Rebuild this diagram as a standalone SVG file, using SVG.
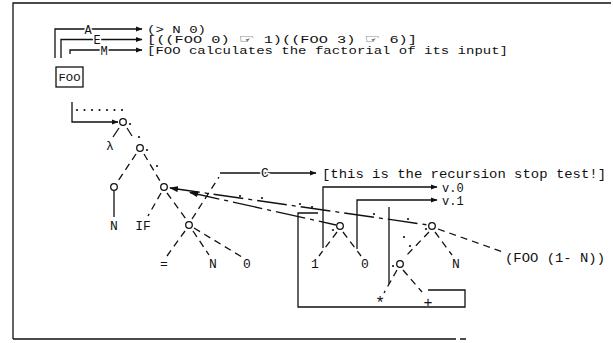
<svg xmlns="http://www.w3.org/2000/svg" width="613" height="343" viewBox="0 0 613 343">
<defs>
<style>
.t{font-family:"Liberation Mono","DejaVu Sans Mono",monospace;font-size:13px;fill:#111}
.s{font-family:"Liberation Mono","DejaVu Sans Mono",monospace;font-size:10.5px;fill:#111}
.v{font-family:"Liberation Mono","DejaVu Sans Mono",monospace;font-size:12px;fill:#111}
.h{font-family:"DejaVu Sans",sans-serif;font-size:12px}
.lbl{font-family:"Liberation Mono","DejaVu Sans Mono",monospace;font-size:12px;fill:#111;text-anchor:middle;paint-order:stroke;stroke:#fff;stroke-width:3px}
.ln{fill:none;stroke:#111;stroke-width:1.3}
.ds{fill:none;stroke:#111;stroke-width:1.3;stroke-dasharray:7 5}
.lg{fill:none;stroke:#111;stroke-width:1.3;stroke-dasharray:30 5 4 5}
.nd{fill:none;stroke:#111;stroke-width:1.3}
.dot{fill:#111}
</style>
<marker id="ah" markerWidth="7" markerHeight="6" refX="6" refY="3" orient="auto" markerUnits="userSpaceOnUse">
<path d="M0,0.5 L6.5,3 L0,5.5 Z" fill="#111"/>
</marker>
<marker id="as" markerWidth="9" markerHeight="6" refX="1" refY="3" orient="auto" markerUnits="userSpaceOnUse">
<path d="M9,0 L0,3 L9,6 Z" fill="#111"/>
</marker>
</defs>
<rect width="613" height="343" fill="#fff"/>
<g id="frame">
<path class="ln" d="M13,339 V3 H611"/>
<path class="ln" d="M13,339 H450"/>
<path class="ln" stroke-dasharray="6 4" d="M450,339 H470"/>
</g>
<g id="connectors">
<path class="ln" d="M55,58 V29 H142" marker-end="url(#ah)"/>
<path class="ln" d="M61,58 V39.5 H142" marker-end="url(#ah)"/>
<path class="ln" d="M70,54 V50 H142" marker-end="url(#ah)"/>
<path class="ln" d="M72,102 V122 H118" marker-end="url(#ah)"/>
<g class="dot">
<circle cx="77" cy="110" r="1.1"/><circle cx="84.5" cy="110" r="1.1"/><circle cx="92" cy="110" r="1.1"/><circle cx="99.5" cy="110" r="1.1"/><circle cx="107" cy="110" r="1.1"/><circle cx="114.5" cy="110" r="1.1"/><circle cx="122" cy="110" r="1.1"/>
</g>
<line class="ln" x1="119" y1="128" x2="113" y2="137"/>
<line class="ln" x1="127" y1="128" x2="132" y2="136"/>
<line class="ds" x1="136" y1="154" x2="118" y2="181"/>
<line class="ds" x1="144" y1="154" x2="160" y2="181"/>
<line class="ln" x1="114" y1="191" x2="114" y2="217"/>
<line class="ds" x1="161" y1="193" x2="148" y2="216"/>
<line class="ds" x1="167" y1="193" x2="186" y2="219"/>
<line class="ds" x1="185" y1="231" x2="167" y2="256"/>
<line class="ds" x1="193" y1="231" x2="209" y2="255"/>
<line class="ds" x1="194" y1="228" x2="242" y2="257"/>
<line class="ds" x1="192" y1="219" x2="219" y2="177"/>
<path class="ln" d="M220,173 H316" marker-end="url(#ah)"/>
<path class="lg" d="M190,192.5 L336,225" marker-start="url(#as)"/>
<path class="lg" d="M170,188 L428,225" marker-start="url(#as)"/>
<line class="ds" x1="337" y1="232" x2="319" y2="256"/>
<line class="ds" x1="343" y1="232" x2="361" y2="256"/>
<path class="ln" d="M323,248 V187 H437" marker-end="url(#ah)"/>
<path class="ln" d="M357,249 V200 H437" marker-end="url(#ah)"/>
<line class="ds" x1="429" y1="232" x2="404" y2="258"/>
<line class="ds" x1="435" y1="232" x2="452" y2="255"/>
<line class="ds" x1="438" y1="229" x2="503" y2="252"/>
<line class="ds" x1="397" y1="270" x2="384" y2="293"/>
<line class="ds" x1="403" y1="270" x2="422" y2="292"/>
<path class="ln" d="M389,207 V284"/>
<path class="ln" d="M428,290 H465 V307 H298 V213 H318"/>
<g class="dot">
<circle cx="130" cy="124" r="1.1"/><circle cx="147" cy="150" r="1.1"/><circle cx="139" cy="137" r="1.1"/><circle cx="157" cy="166" r="1.1"/>
<circle cx="333" cy="230" r="1.1"/><circle cx="426" cy="229" r="1.1"/><circle cx="393" cy="266" r="1.1"/><circle cx="410" cy="246" r="1.1"/><circle cx="404" cy="237" r="1.1"/>
<circle cx="240" cy="196" r="1.1"/><circle cx="262" cy="198" r="1.1"/><circle cx="300" cy="204" r="1.1"/><circle cx="312" cy="207" r="1.1"/><circle cx="374" cy="214" r="1.1"/><circle cx="408" cy="219" r="1.1"/>
</g>
</g>
<g id="legend">
<text class="lbl" x="88" y="33.5">A</text>
<text class="lbl" x="97" y="44">E</text>
<text class="lbl" x="104" y="54.5">M</text>
<text class="s" x="147" y="32.5" textLength="59" lengthAdjust="spacingAndGlyphs">(&gt; N 0)</text>
<text class="s" x="147" y="43" textLength="270" lengthAdjust="spacingAndGlyphs">[((FOO 0) <tspan class="h">☞</tspan> 1)((FOO 3) <tspan class="h">☞</tspan> 6)]</text>
<text class="s" x="147" y="53.5" textLength="361" lengthAdjust="spacingAndGlyphs">[FOO calculates the factorial of its input]</text>
</g>
<g id="node-foo">
<rect class="nd" x="56" y="67" width="27" height="20"/>
<text class="s" x="69.5" y="81" text-anchor="middle" textLength="22" lengthAdjust="spacingAndGlyphs">FOO</text>
</g>
<g id="node-root"><circle class="nd" cx="123" cy="122" r="3.3"/></g>
<g id="node-lambda"><text class="t" x="110" y="149.5" text-anchor="middle">λ</text></g>
<g id="node-body"><circle class="nd" cx="140" cy="148" r="3.3"/></g>
<g id="node-args"><circle class="nd" cx="114" cy="187" r="3.3"/></g>
<g id="node-arg-n"><text class="t" x="114" y="229.5" text-anchor="middle">N</text></g>
<g id="node-if"><circle class="nd" cx="164" cy="187" r="3.3"/></g>
<g id="node-if-label"><text class="t" x="143" y="229.5" text-anchor="middle">IF</text></g>
<g id="node-test"><circle class="nd" cx="189" cy="225" r="3.3"/></g>
<g id="node-eq"><text class="t" x="164" y="267.5" text-anchor="middle">=</text></g>
<g id="node-test-n"><text class="t" x="213" y="267.5" text-anchor="middle">N</text></g>
<g id="node-test-0"><text class="t" x="247" y="267.5" text-anchor="middle">0</text></g>
<g id="node-c-note"><text class="lbl" x="265" y="177" style="font-size:13px">C</text><text class="t" x="322" y="177.5" textLength="284" lengthAdjust="spacingAndGlyphs">[this is the recursion stop test!]</text></g>
<g id="node-v0"><text class="v" x="442" y="191.5">v.0</text></g>
<g id="node-v1"><text class="v" x="442" y="204.5">v.1</text></g>
<g id="node-then"><circle class="nd" cx="340" cy="226" r="3.3"/></g>
<g id="node-then-1"><text class="t" x="315" y="267.5" text-anchor="middle">1</text></g>
<g id="node-then-0"><text class="t" x="365" y="267.5" text-anchor="middle">0</text></g>
<g id="node-else"><circle class="nd" cx="432" cy="226" r="3.3"/></g>
<g id="node-else-n"><text class="t" x="456" y="267.5" text-anchor="middle">N</text></g>
<g id="node-rec"><text class="t" x="505" y="261.5" textLength="100" lengthAdjust="spacingAndGlyphs">(FOO (1- N))</text></g>
<g id="node-mul"><circle class="nd" cx="400" cy="264" r="3.3"/></g>
<g id="node-star"><text class="t" x="380" y="308" text-anchor="middle" style="font-size:17px">*</text></g>
<g id="node-plus"><text class="t" x="428" y="307" text-anchor="middle" style="font-size:15px">+</text></g>
</svg>
